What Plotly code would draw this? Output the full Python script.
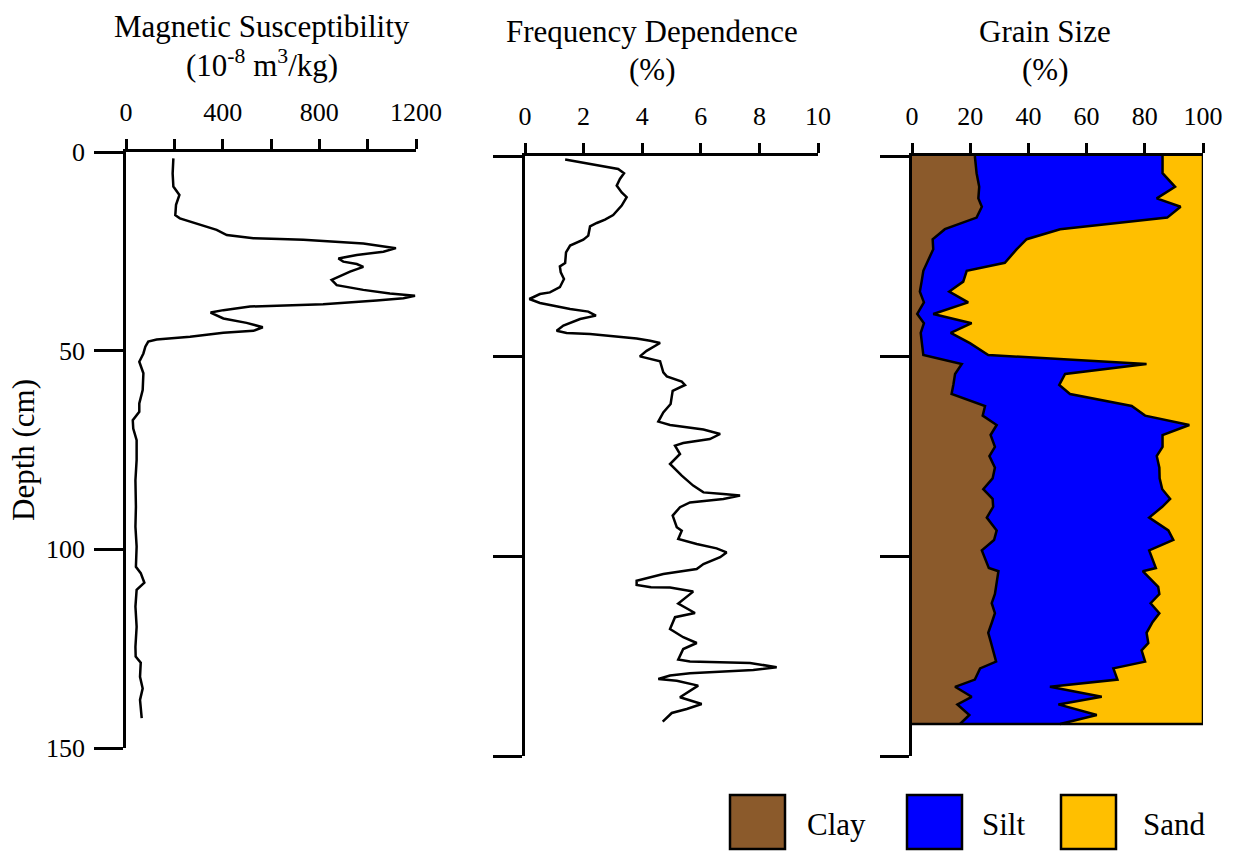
import plotly.graph_objects as go

W, H = 1234, 852
SERIF = "Liberation Serif, Times New Roman, serif"

# ---- Magnetic susceptibility (10^-8 m3/kg) vs depth (cm)
mag_depth = [1.6, 5.4, 8.7, 10.8, 13.3, 15.9, 16.7, 18.0, 19.6, 20.9,
             21.7, 21.9, 22.1, 23.0, 23.8, 24.2, 25.1, 25.9, 26.8, 27.6,
             28.2, 28.9, 30.1, 32.2, 33.5, 34.7, 35.6, 36.2, 36.8, 37.4,
             38.3, 38.9, 39.8, 40.4, 41.9, 43.0, 44.1, 45.0, 45.5, 46.5,
             47.2, 47.7, 49.0, 50.7, 52.8, 55.7, 59.9, 63.3, 65.4, 67.5,
             69.6, 72.5, 77.5, 82.6, 89.3, 94.3, 99.3, 104.4, 106.0, 108.4,
             110.2, 114.4, 119.5, 124.5, 127.0, 128.5, 132.1, 135.0, 137.9, 142.5]
mag_value = [196, 193, 196, 221, 207, 204, 223, 292, 375, 417,
             527, 637, 734, 982, 1065, 1117, 1065, 955, 879, 899,
             955, 982, 927, 851, 872, 982, 1092, 1196, 1148, 1037,
             816, 513, 403, 350, 403, 499, 566, 527, 403, 265,
             127, 92, 80, 72, 55, 72, 69, 55, 55, 28,
             30, 44, 44, 39, 41, 39, 44, 41, 61, 76,
             44, 39, 44, 39, 40, 61, 58, 69, 58, 65]

# ---- Frequency dependence (%) vs depth (cm)
freq_depth = [0.9, 1.75, 2.8, 3.25, 4.3, 5.75, 7.4, 9.1, 10.3, 12.4,
              14.75, 15.9, 16.75, 17.6, 19.9, 20.9, 22.4, 24.1, 26.75, 27.6,
              29.1, 30.75, 32.8, 34.1, 34.5, 35.75, 36.75, 38.25, 38.9, 39.9,
              40.75, 42.4, 43.7, 44.25, 44.5, 45.6, 46.2, 46.75, 48.7, 50.1,
              51.3, 54.1, 55.1, 56.4, 57.25, 58.7, 62.0, 64.1, 66.4, 67.25,
              68.4, 69.5, 70.75, 71.75, 72.4, 74.5, 77.0, 79.9, 82.4, 84.1,
              84.5, 84.9, 85.75, 86.6, 87.8, 89.9, 92.8, 93.7, 95.75, 97.0,
              98.1, 99.1, 100.3, 102.0, 103.25, 104.5, 106.2, 107.25, 107.8, 107.9,
              108.9, 111.9, 114.25, 115.3, 118.25, 120.3, 121.75, 123.25, 125.9, 126.4,
              126.5, 126.75, 127.8, 128.5, 129.3, 129.9, 130.75, 131.2, 132.4, 135.3,
              137.0, 138.25, 139.25, 141.4]
freq_value = [1.37, 1.99, 2.79, 3.18, 3.38, 3.24, 3.13, 3.30, 3.47, 3.30,
              3.01, 2.73, 2.45, 2.22, 2.16, 1.99, 1.54, 1.40, 1.37, 1.19,
              1.22, 1.33, 1.19, 0.85, 0.51, 0.15, 0.51, 1.54, 2.16, 2.42,
              1.88, 1.31, 1.08, 1.42, 2.22, 3.81, 4.27, 4.61, 4.15, 3.92,
              4.61, 4.72, 4.84, 5.35, 5.46, 5.04, 4.97, 4.72, 4.55, 4.95,
              6.09, 6.66, 6.31, 5.40, 5.12, 5.29, 4.95, 5.35, 5.74, 6.09,
              6.77, 7.34, 6.77, 5.63, 5.29, 5.04, 5.18, 5.35, 5.23, 5.86,
              6.54, 6.88, 6.66, 6.09, 5.86, 4.72, 3.81, 3.81, 4.30, 4.95,
              5.74, 5.23, 5.80, 5.12, 4.95, 5.40, 5.86, 5.40, 5.23, 5.63,
              6.31, 7.68, 8.59, 7.79, 5.63, 4.95, 4.55, 5.18, 5.91, 5.29,
              6.03, 5.52, 5.01, 4.70]

# ---- Grain size fractions (%) vs depth (cm)
grain_depth = [0.0, 4.3, 7.7, 10.6, 12.7, 15.4, 18.3, 20.8, 23.3, 26.7,
               28.7, 31.4, 33.9, 36.6, 39.5, 41.8, 44.2, 46.8, 49.75, 52.0,
               54.5, 57.25, 59.5, 62.5, 64.9, 67.25, 69.75, 72.7, 75.0, 77.9,
               80.6, 83.3, 85.7, 87.7, 90.4, 93.6, 96.0, 98.6, 103.0, 103.8,
               107.7, 109.5, 111.8, 114.3, 116.5, 119.2, 121.8, 123.6, 126.4, 128.1,
               130.9, 132.7, 135.2, 137.1, 139.75, 142.0]
clay = [21.6, 22.2, 23.1, 22.8, 24.0, 22.2, 11.3, 7.1, 7.3, 5.0,
        3.9, 3.3, 2.7, 4.1, 1.8, 4.1, 3.0, 3.4, 3.9, 17.1,
        14.8, 14.2, 13.6, 25.1, 24.3, 29.1, 27.0, 28.5, 26.6, 28.5,
        27.7, 24.5, 27.7, 27.9, 25.7, 29.1, 28.2, 24.0, 26.4, 29.7,
        29.0, 28.5, 27.4, 28.5, 27.5, 26.2, 27.2, 27.9, 28.9, 23.4,
        21.6, 14.8, 20.5, 15.6, 19.7, 16.5]
silt = [64.5, 63.9, 67.3, 61.3, 68.3, 65.5, 39.6, 32.3, 28.7, 26.9,
        14.9, 14.3, 10.1, 15.2, 5.5, 16.4, 10.3, 16.5, 22.3, 63.5,
        37.8, 36.4, 40.7, 50.4, 55.8, 66.2, 59.1, 57.6, 57.5, 56.5,
        57.4, 61.5, 61.0, 58.1, 55.8, 59.0, 61.6, 57.5, 57.4, 49.6,
        55.6, 56.5, 54.6, 56.5, 55.2, 54.4, 54.0, 51.0, 51.2, 45.8,
        49.0, 32.6, 44.7, 34.7, 43.8, 34.4]
sand = [round(100 - c - s, 1) for c, s in zip(clay, silt)]

grain_colors = {"Clay": "#8B5A2B", "Silt": "#0000FF", "Sand": "#FFBF00"}


def px_x(p):
    return p / W


def px_y(p):
    return 1 - p / H


line_style = dict(color="black", width=2.5)

fig = go.Figure()

fig.add_trace(go.Scatter(x=mag_value, y=mag_depth, mode="lines",
                         line=line_style, xaxis="x", yaxis="y", showlegend=False))
fig.add_trace(go.Scatter(x=freq_value, y=freq_depth, mode="lines",
                         line=line_style, xaxis="x2", yaxis="y2", showlegend=False))

for name, vals in (("Clay", clay), ("Silt", silt), ("Sand", sand)):
    fig.add_trace(go.Scatter(x=vals, y=grain_depth, mode="lines", name=name,
                             stackgroup="grain", orientation="h",
                             line=dict(color="black", width=2.5),
                             fillcolor=grain_colors[name],
                             xaxis="x3", yaxis="y3", showlegend=False))

# closing line along the base of the core
fig.add_trace(go.Scatter(x=[0, 100], y=[grain_depth[-1]] * 2, mode="lines",
                         line=dict(color="black", width=2.5),
                         xaxis="x3", yaxis="y3", showlegend=False))

tick_font = dict(family=SERIF, size=26, color="black")


def x_axis(dom, rng, major, minor_step, anchor):
    ax = dict(domain=[px_x(dom[0]), px_x(dom[1])], range=rng, side="top",
              anchor=anchor, tickmode="array", tickvals=major,
              ticktext=[str(v) for v in major],
              ticks="outside", ticklen=10, tickwidth=2.5, tickcolor="black",
              showline=True, linewidth=2.5, linecolor="black",
              showgrid=False, zeroline=False, tickfont=tick_font,
              ticklabelstandoff=8, automargin=False, fixedrange=True)
    if minor_step:
        ax["minor"] = dict(dtick=minor_step, tick0=0, ticks="outside", ticklen=10,
                           tickwidth=2.5, tickcolor="black", showgrid=False)
    return ax


def y_axis(dom, anchor, labels):
    return dict(domain=[px_y(dom[1]), px_y(dom[0])], range=[150, 0],
                anchor=anchor, tickmode="array", tickvals=[0, 50, 100, 150],
                showticklabels=labels, ticks="outside", ticklen=29, tickwidth=2.5,
                tickcolor="black", showline=True, linewidth=2.5, linecolor="black",
                showgrid=False, zeroline=False, tickfont=tick_font,
                ticklabelstandoff=4, automargin=False, fixedrange=True)


mag_ticks = [0, 400, 800, 1200]
freq_ticks = [0, 2, 4, 6, 8, 10]
grain_ticks = [0, 20, 40, 60, 80, 100]

fig.update_layout(
    width=W, height=H,
    margin=dict(l=0, r=0, t=0, b=0, pad=0, autoexpand=False),
    paper_bgcolor="white", plot_bgcolor="rgba(0,0,0,0)",
    font=dict(family=SERIF, color="black"),
    showlegend=False,
    xaxis=x_axis((126, 416), [0, 1200], mag_ticks, 200, "y"),
    yaxis=y_axis((152, 748), "x", True),
    xaxis2=x_axis((525, 818), [0, 10], freq_ticks, None, "y2"),
    yaxis2=y_axis((156, 756), "x2", False),
    xaxis3=x_axis((912, 1203), [0, 100], grain_ticks, None, "y3"),
    yaxis3=y_axis((156, 756), "x3", False),
)

title_font = dict(family=SERIF, size=31, color="black")
titles = [
    (262, 27, "Magnetic Susceptibility"),
    (262, 63, "(10<sup>-8</sup> m<sup>3</sup>/kg)"),
    (652, 31, "Frequency Dependence"),
    (652, 69, "(%)"),
    (1045, 31, "Grain Size"),
    (1045, 69, "(%)"),
]
for x, y, t in titles:
    fig.add_annotation(x=px_x(x), y=px_y(y), xref="paper", yref="paper",
                       text=t, showarrow=False, font=title_font,
                       xanchor="center", yanchor="middle")

fig.add_annotation(x=px_x(24), y=px_y(450), xref="paper", yref="paper",
                   text="Depth (cm)", textangle=-90, showarrow=False,
                   font=title_font, xanchor="center", yanchor="middle")

# legend swatches for the grain-size fractions
legend_items = [("Clay", 730, 805), ("Silt", 907, 980), ("Sand", 1061, 1141)]
for name, bx, tx in legend_items:
    fig.add_shape(type="rect", xref="paper", yref="paper",
                  x0=px_x(bx), x1=px_x(bx + 55), y0=px_y(849), y1=px_y(795),
                  fillcolor=grain_colors[name], line=dict(color="black", width=2.5))
    fig.add_annotation(x=px_x(tx), y=px_y(824), xref="paper", yref="paper",
                       text=name, showarrow=False, font=title_font,
                       xanchor="left", yanchor="middle")

fig.write_html("out.html")
